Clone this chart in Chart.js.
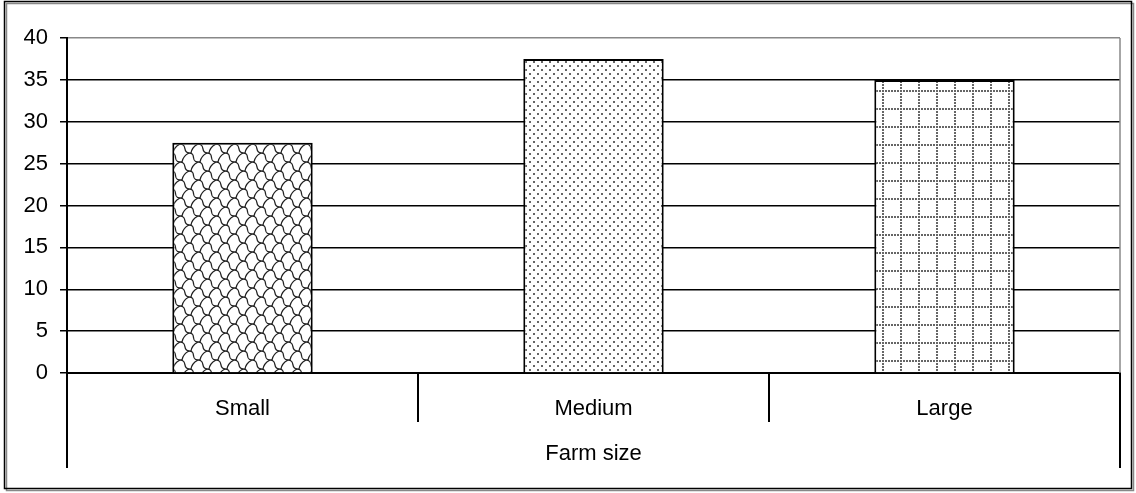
<!DOCTYPE html>
<html>
<head>
<meta charset="utf-8">
<script src="https://cdn.jsdelivr.net/npm/chart.js@4"></script>
<style>
  body { margin: 0; background: #fff; }
  canvas { display: block; }
</style>
</head>
<body>
<canvas id="chart" width="1136" height="493"></canvas>
<script>
// datos
const categorias = ['Small', 'Medium', 'Large'];
const valores = [27.5, 37.5, 35];
const tituloEje = 'Farm size';

const fuente = "'Liberation Sans', Arial, sans-serif";

// patrones de relleno tipo Excel
function patronTejas() {
    const c = document.createElement('canvas');
    c.width = 18; c.height = 18;
    const g = c.getContext('2d');
    g.fillStyle = '#fff';
    g.fillRect(0, 0, 18, 18);
    g.strokeStyle = '#222';
    g.lineWidth = 1.3;
    // linea ondulada en diagonal
    g.beginPath();
    g.moveTo(0, 0);
    g.bezierCurveTo(8, 0, 2, 9, 9, 9);
    g.bezierCurveTo(17, 9, 10, 18, 18, 18);
    g.stroke();
    // arcos de union
    g.beginPath();
    g.moveTo(9, 9);
    g.quadraticCurveTo(3, 12, 2, 18);
    g.stroke();
    g.beginPath();
    g.moveTo(18, 0);
    g.quadraticCurveTo(12, 3, 11, 9);
    g.stroke();
    g.beginPath();
    g.moveTo(0, 18);
    g.lineTo(2, 18);
    g.stroke();
    return g.createPattern(c, 'repeat');
}

function patronPuntos() {
    const c = document.createElement('canvas');
    c.width = 8; c.height = 8;
    const g = c.getContext('2d');
    g.fillStyle = '#fff';
    g.fillRect(0, 0, 8, 8);
    g.fillStyle = '#666';
    g.fillRect(1, 1, 2, 2);
    g.fillRect(5, 5, 2, 2);
    return g.createPattern(c, 'repeat');
}

function patronCuadricula() {
    const c = document.createElement('canvas');
    c.width = 18; c.height = 18;
    const g = c.getContext('2d');
    g.fillStyle = '#fff';
    g.fillRect(0, 0, 18, 18);
    g.fillStyle = '#666';
    for (let i = 0; i < 18; i += 3) {
        g.fillRect(i, 0, 2, 2);
        g.fillRect(0, i, 2, 2);
    }
    return g.createPattern(c, 'repeat');
}

// marco exterior, borde del area y eje de categorias en dos niveles
const extras = {
    id: 'extras',
    beforeDraw(chart) {
        const ctx = chart.ctx;
        ctx.save();
        ctx.fillStyle = '#fff';
        ctx.fillRect(0, 0, chart.width, chart.height);
        ctx.strokeStyle = '#888';
        ctx.lineWidth = 1.5;
        ctx.strokeRect(6.5, 3.5, 1127, 487);
        ctx.strokeStyle = '#000';
        ctx.strokeRect(4.5, 1.5, 1127, 487);
        ctx.restore();
    },
    afterDraw(chart) {
        const ctx = chart.ctx;
        const a = chart.chartArea;
        const x = chart.scales.x;
        const paso = x.getPixelForValue(1) - x.getPixelForValue(0);
        ctx.save();
        // borde gris del area de trazado (derecha)
        ctx.strokeStyle = '#888';
        ctx.lineWidth = 1.5;
        ctx.beginPath();
        ctx.moveTo(a.right, a.top);
        ctx.lineTo(a.right, a.bottom);
        ctx.stroke();
        // separadores de categorias
        ctx.strokeStyle = '#000';
        ctx.lineWidth = 2;
        for (let i = 0; i <= categorias.length; i++) {
            const px = Math.round(x.getPixelForValue(i) - paso / 2);
            const largo = (i === 0 || i === categorias.length) ? 95 : 49;
            ctx.beginPath();
            ctx.moveTo(px, a.bottom);
            ctx.lineTo(px, a.bottom + largo);
            ctx.stroke();
        }
        ctx.fillStyle = '#000';
        ctx.font = '22px ' + fuente;
        ctx.textAlign = 'center';
        ctx.textBaseline = 'middle';
        ctx.fillText(tituloEje, (a.left + a.right) / 2, a.bottom + 81);
        ctx.restore();
    }
};

const ctx = document.getElementById('chart').getContext('2d');
const chart = new Chart(ctx, {
    type: 'bar',
    data: {
        labels: categorias,
        datasets: [{
            data: valores,
            backgroundColor: [patronTejas(), patronPuntos(), patronCuadricula()],
            borderColor: '#000',
            borderWidth: 2,
            barPercentage: 0.4,
            categoryPercentage: 1
        }]
    },
    options: {
        responsive: false,
        animation: false,
        devicePixelRatio: 1,
        layout: { padding: { top: 38, right: 16, left: 0, bottom: 0 } },
        plugins: {
            legend: { display: false },
            tooltip: { enabled: false }
        },
        scales: {
            x: {
                grid: { display: false },
                border: { display: true, color: '#000', width: 2 },
                ticks: { color: '#000', font: { family: fuente, size: 22 }, padding: 15 },
                afterFit(scale) { scale.height = 120; }
            },
            y: {
                min: 0,
                max: 40,
                ticks: { stepSize: 5, color: '#000', font: { family: fuente, size: 22 }, padding: 12 },
                grid: {
                    color: c => c.tick && c.tick.value === 40 ? '#888' : '#000',
                    lineWidth: 1.5,
                    tickColor: '#000',
                    tickLength: 7
                },
                border: { display: true, color: '#000', width: 2 },
                afterFit(scale) { scale.width = 67; }
            }
        }
    },
    plugins: [extras]
});
</script>
</body>
</html>
